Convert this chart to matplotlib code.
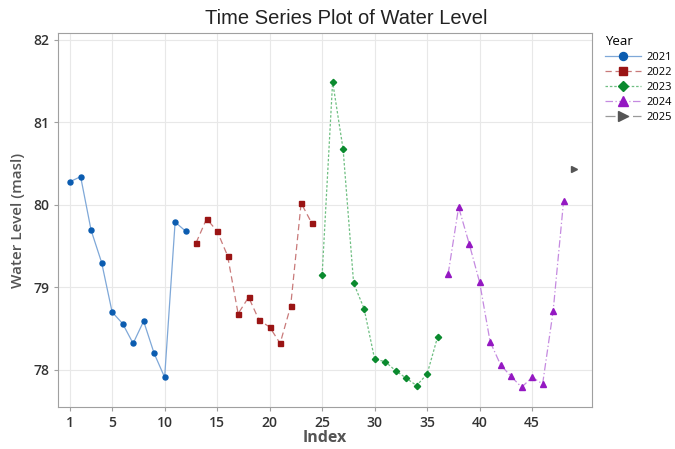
import matplotlib.pyplot as plt

# Datos (nivel de agua por indice)
anios = ['2021', '2022', '2023', '2024', '2025']
indice_2021 = list(range(1, 13))
nivel_2021 = [80.28, 80.34, 79.69, 79.30, 78.70, 78.56, 78.32, 78.59, 78.20, 77.91, 79.79, 79.68]
indice_2022 = list(range(13, 25))
nivel_2022 = [79.54, 79.83, 79.68, 79.38, 78.68, 78.88, 78.60, 78.52, 78.32, 78.77, 80.02, 79.78]
indice_2023 = list(range(25, 37))
nivel_2023 = [79.15, 81.49, 80.67, 79.05, 78.74, 78.13, 78.10, 77.99, 77.90, 77.81, 77.95, 78.40]
indice_2024 = list(range(37, 49))
nivel_2024 = [79.16, 79.97, 79.53, 79.06, 78.34, 78.06, 77.92, 77.79, 77.91, 77.83, 78.71, 80.05]
indice_2025 = [49]
nivel_2025 = [80.43]

xticks = [1, 5, 10, 15, 20, 25, 30, 35, 40, 45]
yticks = [78, 79, 80, 81, 82]

plt.rcParams['font.family'] = ['Open Sans', 'DejaVu Sans']

fig = plt.figure(figsize=(6.75, 4.49), dpi=100)
ax = fig.add_axes([0.086, 0.0935, 0.791, 0.833])

series = [
    (indice_2021, nivel_2021, '#7fa8d8', '#0b5cb0', '-', 'o', 3.6),
    (indice_2022, nivel_2022, '#c97a7a', '#9a1414', (0, (5, 3)), 's', 3.6),
    (indice_2023, nivel_2023, '#6fbf82', '#0a8a2e', (0, (2, 1.5)), 'D', 3.2),
    (indice_2024, nivel_2024, '#c58ae0', '#9418c2', (0, (6, 2, 1, 2)), '^', 4.6),
    (indice_2025, nivel_2025, '#9a9a9a', '#555555', (0, (8, 3)), '>', 4.6),
]

for (x, y, lc, mc, ls, mk, ms), anio in zip(series, anios):
    ax.plot(x, y, color=lc, linestyle=ls, linewidth=0.9, marker=mk,
            markersize=ms, markerfacecolor=mc, markeredgecolor=mc, label=anio)

ax.set_xlim(-0.15, 50.7)
ax.set_ylim(77.55, 82.08)
ax.set_xticks(xticks)
ax.set_yticks(yticks)
ax.grid(True, color='#e8e8e8', linewidth=0.8)
ax.set_axisbelow(True)
for s in ax.spines.values():
    s.set_color('#a0a0a0')
ax.tick_params(colors='#333333', labelsize=10, length=3)
ax.tick_params(axis='both', color='#a0a0a0')
for lab in ax.get_xticklabels() + ax.get_yticklabels():
    lab.set_fontweight('semibold')

fig.text(0.513, 0.958, 'Time Series Plot of Water Level', ha='center', va='center',
         fontsize=14.5, color='#222222', family=['Liberation Sans', 'DejaVu Sans'])
ax.set_xlabel('Index', fontsize=11.5, color='#555555', fontweight='bold', labelpad=0)
ax.set_ylabel('Water Level (masl)', fontsize=11, color='#555555', fontweight='semibold', labelpad=6)

leg = ax.legend(title='Year', loc='upper left', bbox_to_anchor=(1.01, 1.015),
                frameon=False, fontsize=8, title_fontsize=9.5, handlelength=3.2,
                handletextpad=0.5, borderaxespad=0.3, labelspacing=0.35, markerscale=1.6)
leg._legend_box.align = 'left'

fig.savefig('out.png', dpi=100)
